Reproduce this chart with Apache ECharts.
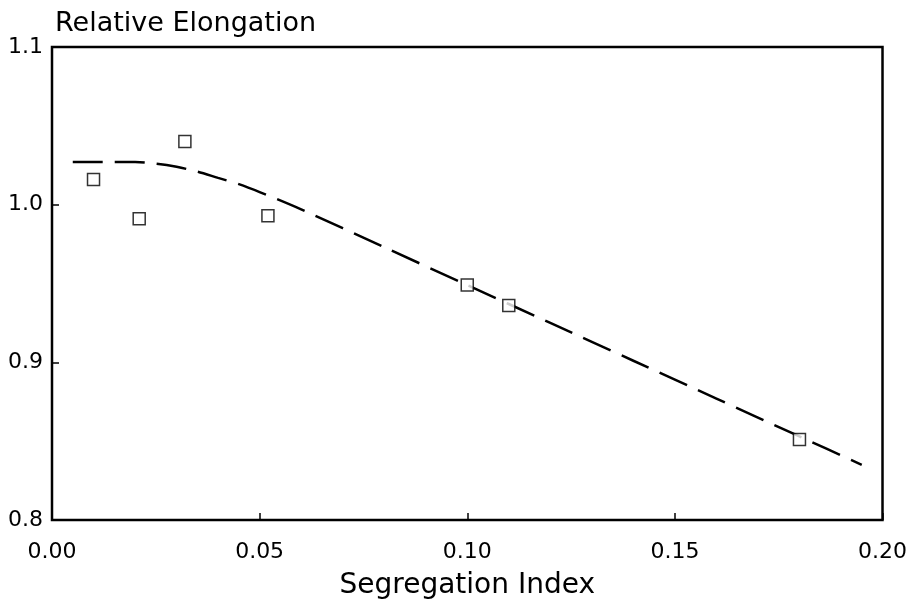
<!DOCTYPE html>
<html>
<head>
<meta charset="utf-8">
<script src="https://cdn.jsdelivr.net/npm/echarts@6/dist/echarts.min.js"></script>
<style>
  html, body { margin: 0; padding: 0; background: #fff; }
  #chart { width: 910px; height: 605px; }
</style>
</head>
<body>
<div id="chart"></div>
<script>
// measured points
var segIndex = [0.010, 0.021, 0.032, 0.052, 0.100, 0.110, 0.180];
var relElong = [1.016, 0.991, 1.040, 0.993, 0.949, 0.936, 0.851];

// dashed fit curve
var fitX = [0.005, 0.010, 0.015, 0.020, 0.025, 0.030, 0.035, 0.040, 0.045, 0.050, 0.060, 0.080, 0.100, 0.120, 0.140, 0.160, 0.180, 0.195];
var fitY = [1.027, 1.027, 1.027, 1.027, 1.026, 1.024, 1.021, 1.017, 1.013, 1.008, 0.997, 0.973, 0.949, 0.925, 0.901, 0.877, 0.853, 0.835];

var xTicks = { min: 0, max: 0.2, step: 0.05 };
var yTicks = { min: 0.8, max: 1.1, step: 0.1 };

var myChart = echarts.init(document.getElementById("chart"));

var pts = segIndex.map(function (x, i) { return [x, relElong[i]]; });
var fit = fitX.map(function (x, i) { return [x, fitY[i]]; });

var font = "'DejaVu Sans', Verdana, sans-serif";

var option = {
  backgroundColor: "#fff",
  animation: false,
  title: {
    text: "Relative Elongation",
    left: 50,
    top: 5,
    textStyle: {
      color: "#000",
      fontFamily: font,
      fontSize: 27,
      fontWeight: "normal",
    },
  },
  grid: {
    left: 52,
    right: 26,
    top: 47,
    bottom: 83,
    show: true,
    borderColor: "#000",
    borderWidth: 2.5,
  },
  xAxis: {
    type: "value",
    min: xTicks.min,
    max: xTicks.max,
    interval: xTicks.step,
    name: "Segregation Index",
    nameLocation: "middle",
    nameGap: 52,
    nameTextStyle: { color: "#000", fontFamily: font, fontSize: 28 },
    axisLine: { show: false },
    axisTick: { show: true, inside: true, length: 7, lineStyle: { color: "#000", width: 1.5 } },
    axisLabel: {
      color: "#000",
      fontFamily: font,
      fontSize: 22,
      margin: 21,
      formatter: function (v) { return v.toFixed(2); },
    },
    splitLine: { show: false },
  },
  yAxis: {
    type: "value",
    min: yTicks.min,
    max: yTicks.max,
    interval: yTicks.step,
    axisLine: { show: false },
    axisTick: { show: true, inside: true, length: 7, lineStyle: { color: "#000", width: 1.5 } },
    axisLabel: {
      color: "#000",
      fontFamily: font,
      fontSize: 22,
      margin: 9,
      formatter: function (v) { return v.toFixed(1); },
    },
    splitLine: { show: false },
  },
  series: [
    {
      type: "line",
      data: fit,
      smooth: 0.3,
      showSymbol: false,
      lineStyle: { color: "#000", width: 2.5, type: [30, 12] },
      z: 2,
    },
    {
      type: "scatter",
      data: pts,
      symbol: "rect",
      symbolSize: 12,
      itemStyle: { color: "#fff", borderColor: "#000", borderWidth: 1.5 },
      z: 3,
    },
  ],
};

myChart.setOption(option);
</script>
</body>
</html>
